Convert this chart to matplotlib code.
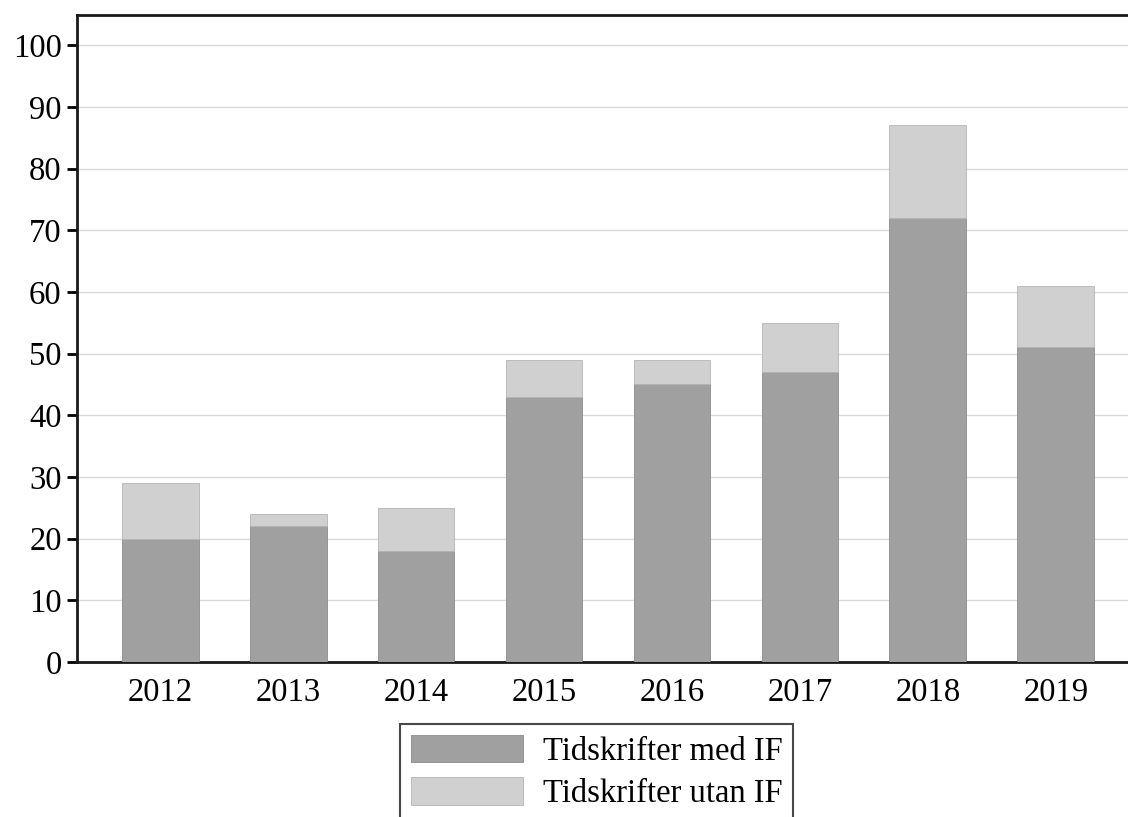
import matplotlib
matplotlib.use("Agg")
from matplotlib import pyplot as plt
import numpy as np

years = ["2012", "2013", "2014", "2015", "2016", "2017", "2018", "2019"]
med_if = [20, 22, 18, 43, 45, 47, 72, 51]      # Tidskrifter med IF
utan_if = [9, 2, 7, 6, 4, 8, 15, 10]           # Tidskrifter utan IF
yticks = [0, 10, 20, 30, 40, 50, 60, 70, 80, 90, 100]

plt.rcParams['font.family'] = ['Liberation Serif', 'DejaVu Serif']

W, H = 1128, 817
fig = plt.figure(figsize=(W / 100, H / 100), dpi=100)
# axes run past the right edge of the picture, as in the reference
ax = fig.add_axes([77 / W, 1 - 662 / H, (1139 - 77) / W, (662 - 15) / H])

x = np.arange(len(years))
ax.bar(x, med_if, width=0.6, color='#a0a0a0', edgecolor='#8c8c8c', linewidth=0.6,
       label='Tidskrifter med IF', zorder=3)
ax.bar(x, utan_if, bottom=med_if, width=0.6, color='#d0d0d0', edgecolor='#b4b4b4',
       linewidth=0.6, label='Tidskrifter utan IF', zorder=3)

ax.set_xlim(-0.65, 7.65)
ax.set_ylim(0, 104.9)
ax.set_yticks(yticks)
ax.set_xticks(x)
ax.set_xticklabels(years)
ax.yaxis.grid(True, color='#d9d9d9', linewidth=1, zorder=0)
ax.set_axisbelow(True)

for s in ['left', 'bottom', 'top']:
    ax.spines[s].set_linewidth(2)
    ax.spines[s].set_color('#1a1a1a')
ax.spines['right'].set_visible(False)

ax.tick_params(axis='y', length=7, width=2, pad=4, labelsize=23.5)
ax.tick_params(axis='x', length=0, pad=11, labelsize=23.5)

leg = fig.legend(loc='upper left', bbox_to_anchor=(400 / W, 1 - 724 / H),
                 borderaxespad=0, fontsize=23.5, frameon=True, fancybox=False,
                 handlelength=3.45, handleheight=0.92, labelspacing=0.32,
                 borderpad=0.33, handletextpad=0.6)
leg.get_frame().set_edgecolor('#1a1a1a')
leg.get_frame().set_linewidth(1.5)

fig.savefig('out.png', dpi=100)
